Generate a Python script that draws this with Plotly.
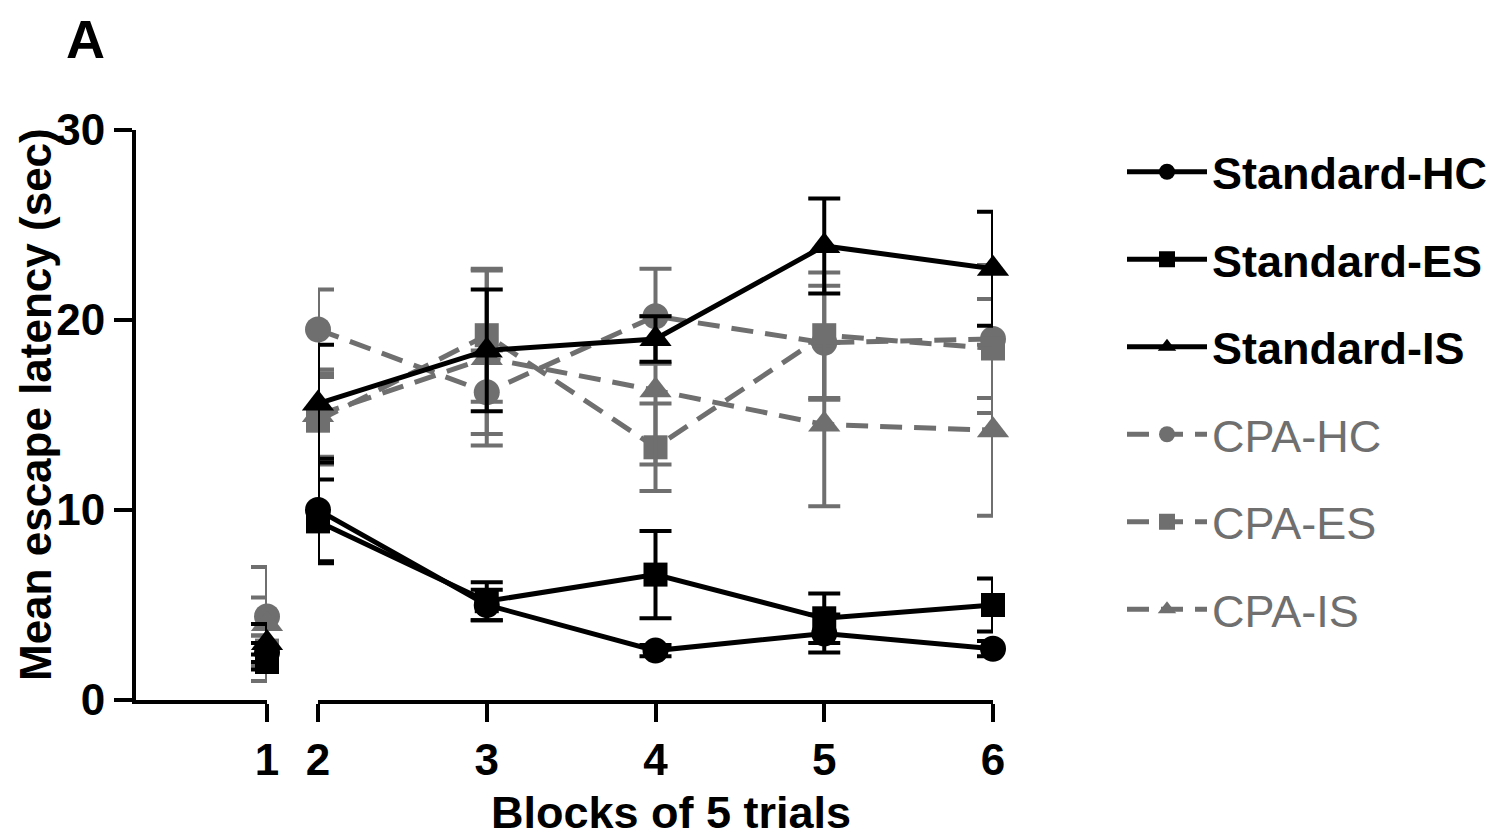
import plotly.graph_objects as go

blocks = [1, 2, 3, 4, 5, 6]
x_tick_labels = ["1", "2", "3", "4", "5", "6"]
y_ticks = [0, 10, 20, 30]

std_hc = [2.5, 10.0, 5.0, 2.6, 3.5, 2.7]
std_hc_err = [0.5, 2.7, 0.8, 0.3, 1.0, 0.4]
std_es = [2.0, 9.4, 5.2, 6.6, 4.3, 5.0]
std_es_err = [0.4, 2.2, 1.0, 2.3, 1.3, 1.4]
std_is = [3.0, 15.6, 18.4, 19.0, 23.9, 22.7]
std_is_err = [1.0, 3.1, 3.2, 1.2, 2.5, 3.0]
cpa_hc = [4.4, 19.5, 16.2, 20.2, 18.8, 19.0]
cpa_hc_err = [1.0, 2.1, 2.2, 2.5, 3.0, 3.9]
cpa_es = [2.6, 14.7, 19.2, 13.3, 19.2, 18.5]
cpa_es_err = [0.8, 2.3, 3.5, 2.3, 3.3, 2.6]
cpa_is = [4.0, 15.0, 18.0, 16.3, 14.5, 14.2]
cpa_is_err = [3.0, 2.2, 4.6, 3.9, 4.3, 4.5]

BLACK = "#000000"
GRAY = "#6f6f6f"
FONT = "Liberation Sans"
W, H = 1500, 838
OFF = 8  # page body margin

def px_x(p):
    return (p - OFF) / W

def px_y(p):
    return (H - (p - OFF)) / H

series = [
    # name, values, errors, color, symbol, size, dash, rank
    ("CPA-HC", cpa_hc, cpa_hc_err, GRAY, "circle", 26, "22px,12px", 4),
    ("CPA-ES", cpa_es, cpa_es_err, GRAY, "square", 24, "22px,12px", 5),
    ("CPA-IS", cpa_is, cpa_is_err, GRAY, "triangle-up", 28, "22px,12px", 6),
    ("Standard-HC", std_hc, std_hc_err, BLACK, "circle", 26, "solid", 1),
    ("Standard-ES", std_es, std_es_err, BLACK, "square", 24, "solid", 2),
    ("Standard-IS", std_is, std_is_err, BLACK, "triangle-up", 28, "solid", 3),
]

fig = go.Figure()
for name, vals, errs, color, sym, size, dash, rank in series:
    if color == BLACK:
        label = "<b>%s</b>" % name
    else:
        label = "<span style='color:%s'>%s</span>" % (GRAY, name)
    common = dict(
        mode="lines+markers",
        line=dict(color=color, width=5, dash=dash),
        marker=dict(color=color, symbol=sym, size=size, line=dict(width=0)),
        cliponaxis=False,
        legendgroup=name,
        legendrank=rank,
    )
    fig.add_trace(go.Scatter(
        x=blocks[:1], y=vals[:1],
        error_y=dict(type="data", array=errs[:1], color=color, thickness=4, width=16),
        xaxis="x", yaxis="y", showlegend=False, name=name, **common))
    fig.add_trace(go.Scatter(
        x=blocks[1:], y=vals[1:],
        error_y=dict(type="data", array=errs[1:], color=color, thickness=4, width=16),
        xaxis="x2", yaxis="y", showlegend=True, name=label, **common))

axis_common = dict(
    showline=True, linecolor="black", linewidth=4,
    ticks="outside", ticklen=18, tickwidth=4, tickcolor="black",
    showgrid=False, zeroline=False, automargin=False,
    tickfont=dict(family=FONT, size=44, color="black", weight="bold"),
)

fig.update_layout(
    width=W, height=H,
    margin=dict(l=0, r=0, t=0, b=0, autoexpand=False),
    paper_bgcolor="white", plot_bgcolor="white",
    showlegend=True,
    xaxis=dict(domain=[px_x(136), px_x(267)], range=[0.0, 1.0], anchor="y",
               tickvals=blocks[:1], ticktext=x_tick_labels[:1], **axis_common),
    xaxis2=dict(domain=[px_x(318), px_x(993)], range=[2.0, 6.0], anchor="y",
                tickvals=blocks[1:], ticktext=x_tick_labels[1:], **axis_common),
    yaxis=dict(domain=[px_y(700), px_y(130)], range=[0, 30], anchor="x",
               tickvals=y_ticks, **axis_common),
    legend=dict(
        x=px_x(1122), y=px_y(136), xanchor="left", yanchor="top",
        font=dict(family=FONT, size=45, color="black"),
        traceorder="grouped", tracegroupgap=26,
        bgcolor="rgba(0,0,0,0)", itemwidth=80,
    ),
    annotations=[
        dict(text="<b>A</b>", x=px_x(85), y=1.0, xref="paper", yref="paper",
             showarrow=False, font=dict(family=FONT, size=54, color="black"),
             xanchor="center", yanchor="top", borderpad=0),
        dict(text="<b>Mean escape latency (sec)</b>", x=px_x(35), y=px_y(405),
             xref="paper", yref="paper", showarrow=False, textangle=-90,
             font=dict(family=FONT, size=44, color="black"),
             xanchor="center", yanchor="middle"),
        dict(text="<b>Blocks of 5 trials</b>", x=px_x(671), y=px_y(812),
             xref="paper", yref="paper", showarrow=False,
             font=dict(family=FONT, size=45, color="black"),
             xanchor="center", yanchor="middle"),
    ],
)

fig.write_html("out.html")
